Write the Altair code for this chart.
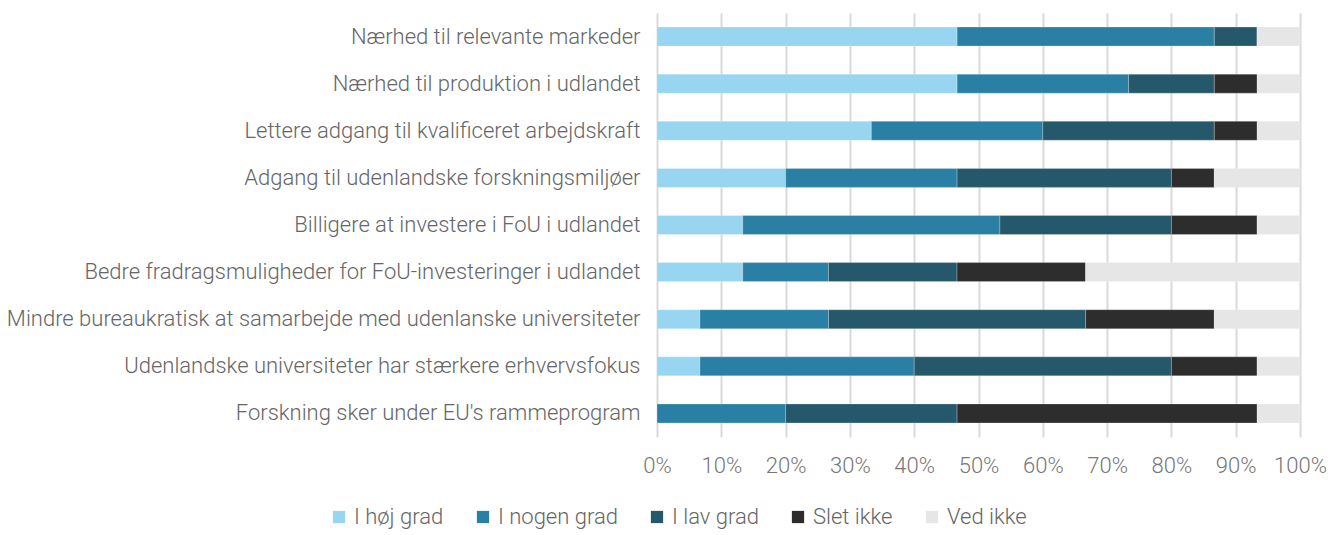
import altair as alt
import pandas as pd

categories = [
    "Nærhed til relevante markeder",
    "Nærhed til produktion i udlandet",
    "Lettere adgang til kvalificeret arbejdskraft",
    "Adgang til udenlandske forskningsmiljøer",
    "Billigere at investere i FoU i udlandet",
    "Bedre fradragsmuligheder for FoU-investeringer i udlandet",
    "Mindre bureaukratisk at samarbejde med udenlanske universiteter",
    "Udenlandske universiteter har stærkere erhvervsfokus",
    "Forskning sker under EU's rammeprogram",
]
series = ["I høj grad", "I nogen grad", "I lav grad", "Slet ikke", "Ved ikke"]
colors = ["#97d5f0", "#2a80a4", "#26586b", "#2d2d2d", "#e6e6e6"]

hoj_grad = [46.67, 46.67, 33.33, 20.0, 13.33, 13.33, 6.67, 6.67, 0.0]
nogen_grad = [40.0, 26.67, 26.67, 26.67, 40.0, 13.33, 20.0, 33.33, 20.0]
lav_grad = [6.67, 13.33, 26.67, 33.33, 26.67, 20.0, 40.0, 40.0, 26.67]
slet_ikke = [0.0, 6.67, 6.67, 6.67, 13.33, 20.0, 20.0, 13.33, 46.67]
ved_ikke = [6.66, 6.66, 6.66, 13.33, 6.67, 33.34, 13.33, 6.67, 6.66]

cols = [hoj_grad, nogen_grad, lav_grad, slet_ikke, ved_ikke]
rows = []
for si, (s, vals) in enumerate(zip(series, cols)):
    for c, v in zip(categories, vals):
        rows.append({"kategori": c, "svar": s, "andel": v / 100.0, "orden": si})
df = pd.DataFrame(rows)

FONT = "Roboto"

chart = (
    alt.Chart(df)
    .mark_bar(size=19, stroke="white", strokeWidth=0.4, strokeOpacity=0.6)
    .encode(
        y=alt.Y(
            "kategori:N",
            sort=categories,
            title=None,
            axis=alt.Axis(
                labelFont=FONT,
                labelFontWeight=300,
                labelFontSize=22,
                labelColor="#666666",
                labelLimit=800,
                labelPadding=17,
                ticks=False,
                domain=False,
                grid=False,
            ),
        ),
        x=alt.X(
            "andel:Q",
            stack="zero",
            scale=alt.Scale(domain=[0, 1], nice=False),
            title=None,
            axis=alt.Axis(
                format=".0%",
                values=[i / 10 for i in range(11)],
                labelFont=FONT,
                labelFontWeight=300,
                labelFontSize=22,
                labelColor="#777777",
                labelPadding=18,
                labelOverlap=False,
                labelFlush=False,
                ticks=False,
                domain=False,
                grid=True,
                gridColor="#d9d9d9",
                gridWidth=2,
            ),
        ),
        color=alt.Color(
            "svar:N",
            sort=series,
            scale=alt.Scale(domain=series, range=colors),
            legend=alt.Legend(
                title=None,
                orient="none",
                direction="horizontal",
                legendX=-329,
                legendY=493,
                symbolType="square",
                symbolSize=150,
                symbolStrokeWidth=0,
                labelFont=FONT,
                labelFontWeight=300,
                labelFontSize=22,
                labelColor="#666666",
                columnPadding=28,
                labelOffset=4,
            ),
        ),
        order=alt.Order("orden:Q", sort="ascending"),
    )
    .properties(
        width=643,
        height=424,
        autosize=alt.AutoSizeParams(type="none"),
        padding={"left": 649, "top": 5, "right": 28, "bottom": 93},
    )
    .configure_view(stroke=None)
    .configure_scale(bandPaddingInner=0.6)
)

chart.save("out.html", embed_options={"renderer": "svg", "actions": False})
